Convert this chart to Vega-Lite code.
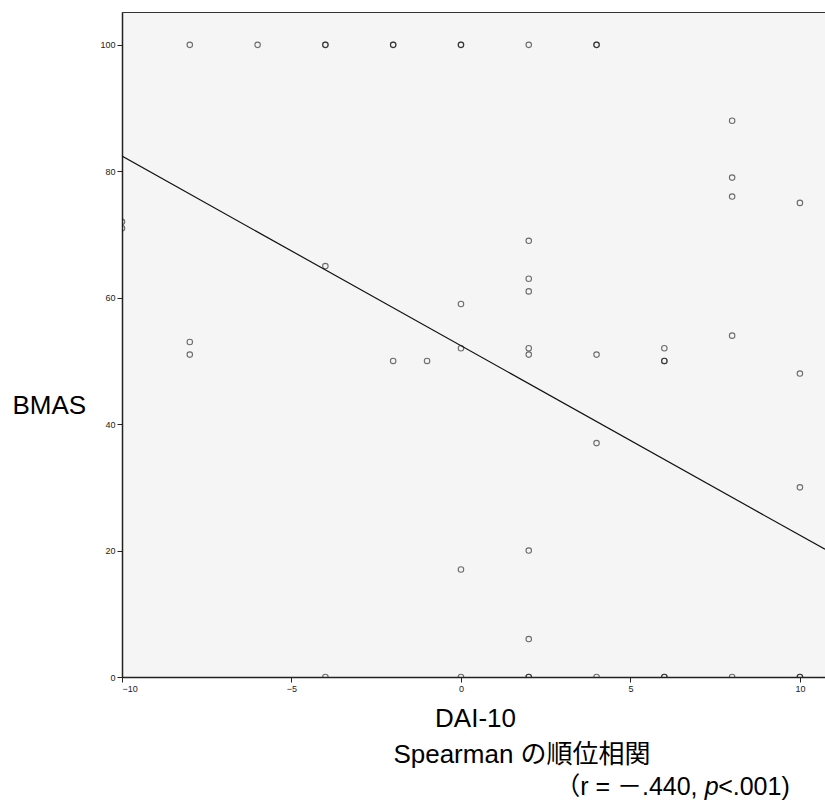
{
  "$schema": "https://vega.github.io/schema/vega-lite/v6.json",
  "width": 703,
  "height": 665,
  "autosize": {"type": "none"},
  "padding": {"left": 122, "top": 12, "right": 0, "bottom": 123},
  "background": "white",
  "config": {
    "font": "Liberation Sans, Arial, Noto Sans CJK JP",
    "view": {"fill": "#f5f5f5", "stroke": "#333333", "strokeWidth": 1},
    "axis": {
      "grid": false,
      "domainColor": "#222222",
      "domainWidth": 1.5,
      "tickColor": "#222222",
      "tickSize": 5,
      "tickWidth": 1,
      "labelFontSize": 9,
      "labelColor": "#222222",
      "labelFont": "Liberation Sans",
      "titleFont": "Liberation Sans",
      "titleFontWeight": "normal",
      "titleColor": "#000000",
      "titleFontSize": 26
    }
  },
  "layer": [
    {
      "data": {
        "values": [
          {"DAI": -8, "BMAS": 100}, {"DAI": -6, "BMAS": 100}, {"DAI": -4, "BMAS": 100}, {"DAI": -4, "BMAS": 100},
          {"DAI": -2, "BMAS": 100}, {"DAI": -2, "BMAS": 100}, {"DAI": 0, "BMAS": 100}, {"DAI": 0, "BMAS": 100},
          {"DAI": 2, "BMAS": 100}, {"DAI": 4, "BMAS": 100}, {"DAI": 4, "BMAS": 100},
          {"DAI": 8, "BMAS": 88}, {"DAI": 8, "BMAS": 79}, {"DAI": 8, "BMAS": 76}, {"DAI": 8, "BMAS": 54}, {"DAI": 8, "BMAS": 0},
          {"DAI": 10, "BMAS": 75}, {"DAI": 10, "BMAS": 48}, {"DAI": 10, "BMAS": 30}, {"DAI": 10, "BMAS": 0}, {"DAI": 10, "BMAS": 0},
          {"DAI": -10, "BMAS": 72}, {"DAI": -10, "BMAS": 71},
          {"DAI": -4, "BMAS": 65}, {"DAI": -4, "BMAS": 0},
          {"DAI": 2, "BMAS": 69}, {"DAI": 2, "BMAS": 63}, {"DAI": 2, "BMAS": 61}, {"DAI": 2, "BMAS": 52}, {"DAI": 2, "BMAS": 51},
          {"DAI": 2, "BMAS": 20}, {"DAI": 2, "BMAS": 6}, {"DAI": 2, "BMAS": 0}, {"DAI": 2, "BMAS": 0},
          {"DAI": 0, "BMAS": 59}, {"DAI": 0, "BMAS": 52}, {"DAI": 0, "BMAS": 17}, {"DAI": 0, "BMAS": 0},
          {"DAI": -8, "BMAS": 53}, {"DAI": -8, "BMAS": 51},
          {"DAI": -2, "BMAS": 50}, {"DAI": -1, "BMAS": 50},
          {"DAI": 4, "BMAS": 51}, {"DAI": 4, "BMAS": 37}, {"DAI": 4, "BMAS": 0},
          {"DAI": 6, "BMAS": 52}, {"DAI": 6, "BMAS": 50}, {"DAI": 6, "BMAS": 50}, {"DAI": 6, "BMAS": 0}, {"DAI": 6, "BMAS": 0}
        ]
      },
      "mark": {"type": "point", "shape": "circle", "filled": false, "size": 30, "stroke": "#111111", "strokeWidth": 1.1, "strokeOpacity": 0.85, "clip": true},
      "encoding": {
        "x": {
          "field": "DAI", "type": "quantitative",
          "scale": {"domain": [-10, 10.74], "nice": false, "zero": false},
          "axis": {"values": [-10, -5, 0, 5, 10], "title": "DAI-10", "titleBaseline": "alphabetic", "titleY": 49, "titleX": 353}
        },
        "y": {
          "field": "BMAS", "type": "quantitative",
          "scale": {"domain": [0, 105.2], "nice": false},
          "axis": {"values": [0, 20, 40, 60, 80, 100], "title": "BMAS", "titleAngle": 0, "titleAlign": "left", "titleBaseline": "alphabetic", "titleX": -110, "titleY": 401}
        }
      }
    },
    {
      "data": {"values": [{"DAI": -10, "BMAS": 82.4}, {"DAI": 10.74, "BMAS": 20.2}]},
      "mark": {"type": "line", "color": "#111111", "strokeWidth": 1.2, "clip": true},
      "encoding": {
        "x": {"field": "DAI", "type": "quantitative"},
        "y": {"field": "BMAS", "type": "quantitative"}
      }
    },
    {
      "data": {"values": [{"label": "Spearman の順位相関"}]},
      "mark": {"type": "text", "align": "center", "baseline": "alphabetic", "fontSize": 26, "font": "Liberation Sans, Noto Sans CJK JP", "color": "#000000", "clip": false},
      "encoding": {
        "text": {"field": "label"},
        "x": {"datum": 1.8},
        "y": {"datum": -13.6}
      }
    },
    {
      "data": {"values": [{"label": "（r = －.440,"}]},
      "mark": {"type": "text", "align": "right", "baseline": "alphabetic", "fontSize": 25, "font": "Liberation Sans, Noto Sans CJK JP", "color": "#000000", "clip": false},
      "encoding": {
        "text": {"field": "label"},
        "x": {"datum": 6.98},
        "y": {"datum": -18.7}
      }
    },
    {
      "data": {"values": [{"label": "p"}]},
      "mark": {"type": "text", "align": "right", "baseline": "alphabetic", "fontSize": 25, "fontStyle": "italic", "font": "Liberation Sans", "color": "#000000", "clip": false},
      "encoding": {
        "text": {"field": "label"},
        "x": {"datum": 7.6},
        "y": {"datum": -18.7}
      }
    },
    {
      "data": {"values": [{"label": "<.001)"}]},
      "mark": {"type": "text", "align": "right", "baseline": "alphabetic", "fontSize": 25, "font": "Liberation Sans", "color": "#000000", "clip": false},
      "encoding": {
        "text": {"field": "label"},
        "x": {"datum": 9.7},
        "y": {"datum": -18.7}
      }
    }
  ]
}
